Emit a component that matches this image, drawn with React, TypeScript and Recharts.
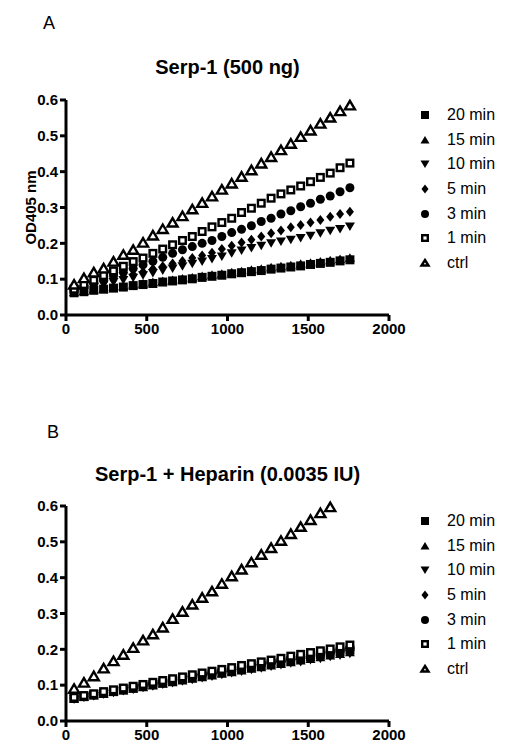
import React from 'react';
import { ScatterChart, Scatter, XAxis, YAxis, Legend } from 'recharts';

const FONT = '"Liberation Sans", Arial, Helvetica, sans-serif';

// sampling times (s)
const TIMES = [50, 111, 172, 233, 294, 355, 416, 477, 538, 599, 660, 721, 782, 843, 904, 965, 1026, 1087, 1148, 1209, 1270, 1331, 1392, 1453, 1514, 1575, 1636, 1697, 1758];

const X_TICKS = [0, 500, 1000, 1500, 2000];
const Y_TICKS = [0, 0.1, 0.2, 0.3, 0.4, 0.5, 0.6];

const SERIES_NAMES = ['20 min', '15 min', '10 min', '5 min', '3 min', '1 min', 'ctrl'];
const SERIES_MARKERS = ['square', 'triangle', 'invTriangle', 'diamond', 'circle', 'openSquare', 'openTriangle'];

// Panel A — Serp-1 (500 ng)
const A_20 = [0.062, 0.065, 0.069, 0.072, 0.075, 0.078, 0.082, 0.085, 0.088, 0.092, 0.095, 0.098, 0.101, 0.105, 0.108, 0.111, 0.115, 0.118, 0.121, 0.124, 0.128, 0.131, 0.134, 0.137, 0.141, 0.144, 0.147, 0.151, 0.154];
const A_15 = [0.064, 0.067, 0.071, 0.074, 0.078, 0.081, 0.085, 0.088, 0.092, 0.095, 0.098, 0.102, 0.105, 0.109, 0.112, 0.115, 0.119, 0.122, 0.126, 0.129, 0.133, 0.136, 0.139, 0.143, 0.146, 0.149, 0.153, 0.156, 0.160];
const A_10 = [0.066, 0.072, 0.079, 0.085, 0.092, 0.098, 0.104, 0.111, 0.117, 0.124, 0.130, 0.136, 0.143, 0.149, 0.156, 0.163, 0.172, 0.180, 0.187, 0.193, 0.200, 0.205, 0.210, 0.215, 0.221, 0.228, 0.235, 0.240, 0.247];
const A_5 = [0.068, 0.076, 0.083, 0.091, 0.098, 0.106, 0.114, 0.121, 0.129, 0.136, 0.144, 0.151, 0.159, 0.166, 0.174, 0.184, 0.193, 0.202, 0.210, 0.219, 0.228, 0.236, 0.245, 0.251, 0.258, 0.265, 0.274, 0.282, 0.288];
const A_3 = [0.068, 0.078, 0.088, 0.098, 0.109, 0.119, 0.130, 0.140, 0.150, 0.161, 0.172, 0.182, 0.191, 0.200, 0.208, 0.219, 0.230, 0.239, 0.249, 0.261, 0.270, 0.282, 0.291, 0.302, 0.312, 0.323, 0.332, 0.344, 0.355];
const A_1 = [0.072, 0.085, 0.097, 0.110, 0.123, 0.136, 0.149, 0.159, 0.172, 0.184, 0.196, 0.208, 0.219, 0.233, 0.246, 0.258, 0.270, 0.286, 0.298, 0.312, 0.326, 0.338, 0.349, 0.360, 0.372, 0.384, 0.396, 0.411, 0.424];
const A_CTRL = [0.085, 0.103, 0.119, 0.130, 0.149, 0.168, 0.182, 0.202, 0.222, 0.240, 0.258, 0.276, 0.295, 0.313, 0.331, 0.350, 0.367, 0.386, 0.404, 0.423, 0.441, 0.460, 0.478, 0.497, 0.515, 0.534, 0.551, 0.569, 0.585];

// Panel B — Serp-1 + Heparin (0.0035 IU)
const B_20 = [0.063, 0.068, 0.073, 0.077, 0.082, 0.087, 0.092, 0.097, 0.102, 0.106, 0.111, 0.116, 0.121, 0.126, 0.131, 0.135, 0.140, 0.145, 0.150, 0.155, 0.160, 0.164, 0.169, 0.174, 0.179, 0.184, 0.189, 0.193, 0.198];
const B_15 = [0.062, 0.067, 0.071, 0.076, 0.081, 0.085, 0.090, 0.094, 0.099, 0.104, 0.108, 0.113, 0.118, 0.122, 0.127, 0.132, 0.136, 0.141, 0.146, 0.150, 0.155, 0.159, 0.164, 0.169, 0.173, 0.178, 0.183, 0.187, 0.192];
const B_10 = [0.061, 0.066, 0.070, 0.075, 0.079, 0.084, 0.088, 0.093, 0.097, 0.102, 0.106, 0.111, 0.115, 0.120, 0.124, 0.129, 0.134, 0.138, 0.143, 0.147, 0.152, 0.156, 0.161, 0.165, 0.170, 0.174, 0.179, 0.183, 0.188];
const B_5 = [0.063, 0.068, 0.072, 0.077, 0.082, 0.087, 0.091, 0.096, 0.101, 0.106, 0.110, 0.115, 0.120, 0.125, 0.129, 0.134, 0.139, 0.144, 0.148, 0.153, 0.158, 0.163, 0.167, 0.172, 0.177, 0.182, 0.186, 0.191, 0.196];
const B_3 = [0.064, 0.069, 0.074, 0.079, 0.084, 0.089, 0.094, 0.099, 0.104, 0.109, 0.114, 0.119, 0.124, 0.129, 0.133, 0.138, 0.143, 0.148, 0.153, 0.158, 0.163, 0.168, 0.173, 0.178, 0.183, 0.188, 0.193, 0.198, 0.203];
const B_1 = [0.066, 0.071, 0.076, 0.082, 0.087, 0.092, 0.097, 0.102, 0.108, 0.113, 0.118, 0.123, 0.129, 0.134, 0.139, 0.144, 0.149, 0.155, 0.160, 0.165, 0.170, 0.175, 0.181, 0.186, 0.191, 0.196, 0.201, 0.207, 0.212];
const B_CTRL = [0.090, 0.107, 0.125, 0.147, 0.167, 0.185, 0.204, 0.225, 0.242, 0.261, 0.285, 0.305, 0.325, 0.344, 0.362, 0.383, 0.404, 0.423, 0.443, 0.464, 0.483, 0.503, 0.522, 0.542, 0.561, 0.580, 0.597];

const PANEL_A = [A_20, A_15, A_10, A_5, A_3, A_1, A_CTRL];
const PANEL_B = [B_20, B_15, B_10, B_5, B_3, B_1, B_CTRL];

function Marker({ cx, cy, kind, s }: { cx: number; cy: number; kind: string; s: number }) {
  const h = s / 2;
  switch (kind) {
    case 'square':
      return <rect x={cx - h} y={cy - h} width={s} height={s} fill="#000" />;
    case 'openSquare':
      return <rect x={cx - h + 1.2} y={cy - h + 1.2} width={s - 2.4} height={s - 2.4} fill="#fff" stroke="#000" strokeWidth={2.4} />;
    case 'triangle':
      return <polygon points={`${cx},${cy - h} ${cx + h + 0.5},${cy + h - 0.5} ${cx - h - 0.5},${cy + h - 0.5}`} fill="#000" />;
    case 'openTriangle':
      return (
        <polygon
          points={`${cx},${cy - h + 1} ${cx + h - 0.5},${cy + h - 1.5} ${cx - h + 0.5},${cy + h - 1.5}`}
          fill="#fff"
          stroke="#000"
          strokeWidth={2.4}
        />
      );
    case 'invTriangle':
      return <polygon points={`${cx - h - 0.5},${cy - h + 0.5} ${cx + h + 0.5},${cy - h + 0.5} ${cx},${cy + h}`} fill="#000" />;
    case 'diamond':
      return <polygon points={`${cx},${cy - h - 0.5} ${cx + h - 0.5},${cy} ${cx},${cy + h + 0.5} ${cx - h + 0.5},${cy}`} fill="#000" />;
    case 'circle':
      return <circle cx={cx} cy={cy} r={h} fill="#000" />;
    default:
      return null;
  }
}

const legendContent = () => (
  <div style={{ fontFamily: FONT, fontSize: 16, color: '#000' }}>
    {SERIES_NAMES.map((name, i) => (
      <div key={name} style={{ height: 24.6, display: 'flex', alignItems: 'center' }}>
        <svg width={16} height={16} style={{ display: 'block' }}>
          <Marker cx={8} cy={8} kind={SERIES_MARKERS[i]} s={8} />
        </svg>
        <span style={{ marginLeft: 14, lineHeight: '16px' }}>{name}</span>
      </div>
    ))}
  </div>
);

const tickStyle = { fill: '#000', stroke: 'none', fontSize: 15, fontWeight: 'bold' as const, fontFamily: FONT };

const markerShapes = SERIES_MARKERS.map((kind) => (p: any) => (
  <Marker cx={p.cx} cy={p.cy} kind={kind} s={kind === 'openTriangle' ? 11 : 9} />
));

const yLabelStyle = { textAnchor: 'middle', fontWeight: 'bold', fontSize: 15, fill: '#000', stroke: 'none', fontFamily: FONT };

function Panel({ values, yLabel }: { values: number[][]; yLabel?: string }) {
  return (
    <ScatterChart width={505} height={350} margin={{ top: 100, right: 116, bottom: 5, left: 26 }}>
      <XAxis
        type="number"
        dataKey="t"
        domain={[0, 2000]}
        ticks={X_TICKS}
        height={30}
        tick={tickStyle}
        tickSize={6}
        tickMargin={2}
        stroke="#000"
        strokeWidth={3}
        axisLine={{ stroke: '#000', strokeWidth: 3 }}
        tickLine={{ stroke: '#000', strokeWidth: 3 }}
      />
      <YAxis
        type="number"
        dataKey="od"
        domain={[0, 0.6]}
        ticks={Y_TICKS}
        width={40}
        tick={tickStyle}
        tickSize={6}
        tickMargin={2}
        stroke="#000"
        strokeWidth={3}
        tickFormatter={(v: number) => v.toFixed(1)}
        axisLine={{ stroke: '#000', strokeWidth: 3 }}
        tickLine={{ stroke: '#000', strokeWidth: 3 }}
        label={yLabel ? { value: yLabel, angle: -90, position: 'insideLeft', offset: 5, style: yLabelStyle } : undefined}
      />
      <Legend
        layout="horizontal"
        verticalAlign="middle"
        align="center"
        content={legendContent}
        wrapperStyle={{ top: 103, left: 417, width: 90 }}
      />
      {values.map((vals, i) => (
        <Scatter
          key={SERIES_NAMES[i]}
          name={SERIES_NAMES[i]}
          data={vals.map((v, j) => ({ t: TIMES[j], od: v }))}
          isAnimationActive={false}
          shape={markerShapes[i]}
        />
      ))}
    </ScatterChart>
  );
}

export default function App() {
  const label = { position: 'absolute' as const, fontFamily: FONT, color: '#000', lineHeight: '20px' };
  return (
    <div style={{ position: 'absolute', left: 0, top: 0, width: 505, height: 746, background: '#fff' }}>
      <div style={{ ...label, left: 43, top: 13, fontSize: 18 }}>A</div>
      <div style={{ ...label, left: 0, width: 455, top: 57, fontSize: 20, fontWeight: 'bold', textAlign: 'center' }}>
        Serp-1 (500 ng)
      </div>
      <div style={{ position: 'absolute', left: 0, top: 0 }}>
        <Panel values={PANEL_A} yLabel="OD405 nm" />
      </div>

      <div style={{ ...label, left: 47, top: 422, fontSize: 18 }}>B</div>
      <div style={{ ...label, left: 0, width: 455, top: 464, fontSize: 20, fontWeight: 'bold', textAlign: 'center' }}>
        Serp-1 + Heparin (0.0035 IU)
      </div>
      <div style={{ position: 'absolute', left: 0, top: 406 }}>
        <Panel values={PANEL_B} />
      </div>
    </div>
  );
}
